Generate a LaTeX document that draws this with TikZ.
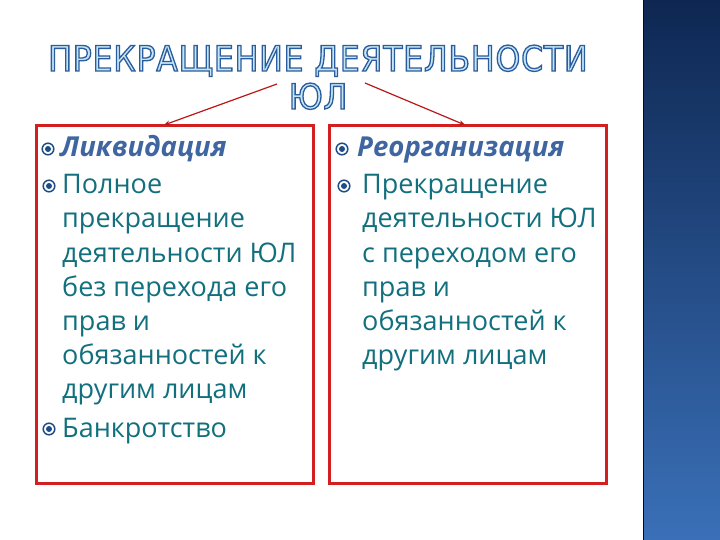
\documentclass[tikz,border=0pt]{standalone}
\usepackage{fontspec}
\setmainfont{Open Sans}
\newfontfamily\titlefont[LetterSpace=2.4]{DejaVu Sans Condensed}
\usetikzlibrary{arrows.meta}
\definecolor{boxred}{HTML}{D21F1F}
\definecolor{arrred}{HTML}{B81818}
\definecolor{bodyteal}{HTML}{12707E}
\definecolor{headblue}{HTML}{3F66A0}
\definecolor{bulblue}{HTML}{1E4C86}
\definecolor{titlefill}{HTML}{C4E6F6}
\definecolor{bartop}{HTML}{0E2752}
\definecolor{barbot}{HTML}{3A70B8}
\tikzset{
  panel/.style={draw=boxred, line width=3pt, minimum width=277pt, minimum height=357pt, inner sep=0pt},
  bodytext/.style={anchor=base west, inner sep=0pt, text=bodyteal, font=\fontsize{27}{32}\selectfont},
  headtext/.style={anchor=base west, inner sep=0pt, text=headblue, font=\fontsize{27.5}{32}\selectfont\bfseries\itshape},
  titletext/.style={anchor=base, inner sep=0pt, font=\fontsize{35}{40}\titlefont},
  link/.style={draw=arrred, line width=1.2pt, -{Stealth[length=6pt,width=5pt]}},
}
\newcommand{\bul}[1]{%
  \fill[bulblue] (#1) circle (3pt);
  \draw[bulblue, line width=1.5pt] (#1) circle (5.8pt);}
\newcommand{\otext}[1]{{\color{titlefill}\special{pdf:literal direct 2 Tr 1.3 w 0.17 0.36 0.62 RG}#1\special{pdf:literal direct 0 Tr}}}
\begin{document}
\begin{tikzpicture}[x=1pt,y=-1pt]
\useasboundingbox (0,0) rectangle (720,540);
\fill[white] (0,0) rectangle (720,540);
% right bar
\shade[top color=bartop, bottom color=barbot] (643,0) rectangle (720,540);
\draw[black!70!bartop, line width=1.5pt] (643.5,0) -- (643.5,540);
% title
\node[titletext] (t1) at (318,71) {\otext{ПРЕКРАЩЕНИЕ ДЕЯТЕЛЬНОСТИ}};
\node[titletext] (t2) at (318,109) {\otext{ЮЛ}};
% panels
\node[panel] (lbox) at (174.5,304.5) {};
\node[panel] (rbox) at (468,304.5) {};
% arrows
\coordinate (la) at (277,84);
\coordinate (ra) at (365,83);
\coordinate (lt) at (164,125);
\coordinate (rt) at (465,125);
\draw[link] (la) -- (lt);
\draw[link] (ra) -- (rt);
% left column
\bul{48,149}
\node[headtext] (lh) at (60,157) {Ликвидация};
\bul{49,186}
\node[bodytext] (l1) at (62,194) {Полное};
\node[bodytext] (l2) at (62,228) {прекращение};
\node[bodytext] (l3) at (62,262) {деятельности ЮЛ};
\node[bodytext] (l4) at (62,296) {без перехода его};
\node[bodytext] (l5) at (62,330) {прав и};
\node[bodytext] (l6) at (62,364) {обязанностей к};
\node[bodytext] (l7) at (62,398) {другим лицам};
\bul{49,429}
\node[bodytext] (l8) at (62,437) {Банкротство};
% right column
\bul{342,149}
\node[headtext] (rh) at (357,157) {Реорганизация};
\bul{344,186}
\node[bodytext] (r1) at (362,194) {Прекращение};
\node[bodytext] (r2) at (362,228) {деятельности ЮЛ};
\node[bodytext] (r3) at (362,262) {с переходом его};
\node[bodytext] (r4) at (362,296) {прав и};
\node[bodytext] (r5) at (362,330) {обязанностей к};
\node[bodytext] (r6) at (362,364) {другим лицам};
\end{tikzpicture}
\end{document}
